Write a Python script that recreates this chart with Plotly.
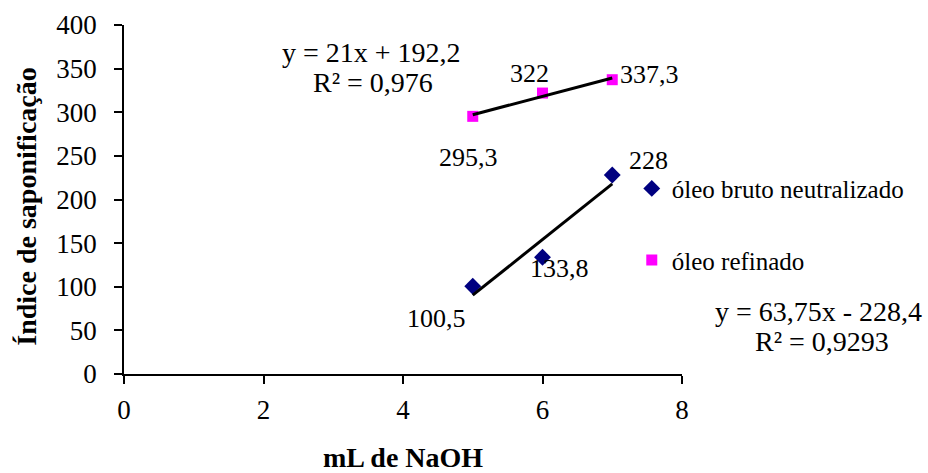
import numpy as np
import plotly.graph_objects as go

# ---- data ----
ml_naoh = [5, 6, 7]
bruto_vals = [100.5, 133.8, 228]
refinado_vals = [295.3, 322, 337.3]
series_names = ["óleo bruto neutralizado", "óleo refinado"]
x_ticks = [0, 2, 4, 6, 8]
y_ticks = [0, 50, 100, 150, 200, 250, 300, 350, 400]

FONT = "Liberation Serif"
NAVY = "#000080"
MAGENTA = "#FF00FF"


def fmt(v):
    return ("%g" % v).replace(".", ",")


fig = go.Figure()

fig.add_trace(go.Scatter(
    x=ml_naoh, y=bruto_vals, mode="markers", name=series_names[0],
    legendgroup="a",
    marker=dict(symbol="diamond", size=13, color=NAVY),
))
fig.add_trace(go.Scatter(
    x=ml_naoh, y=refinado_vals, mode="markers", name=series_names[1],
    legendgroup="b",
    marker=dict(symbol="square", size=11, color=MAGENTA),
))

# linear trend lines from least-squares fit
fits = []
for vals in (bruto_vals, refinado_vals):
    m, b = np.polyfit(ml_naoh, vals, 1)
    xs = np.array([ml_naoh[0], ml_naoh[-1]], dtype=float)
    fits.append((m, b))
    fig.add_trace(go.Scatter(
        x=xs, y=m * xs + b, mode="lines", showlegend=False,
        line=dict(color="black", width=3), hoverinfo="skip",
    ))


def r2(vals, m, b):
    y = np.array(vals)
    yhat = m * np.array(ml_naoh) + b
    return 1 - ((y - yhat) ** 2).sum() / ((y - y.mean()) ** 2).sum()


lbl_font = dict(family=FONT, size=26, color="black")
eq_font = dict(family=FONT, size=28, color="black")

# data labels (offsets in pixels)
label_offsets_bruto = [(-36, -32), (17, -11), (36, 15)]
label_offsets_ref = [(-4, -41), (-13, 20), (37, 5)]
for vals, offs in ((bruto_vals, label_offsets_bruto),
                   (refinado_vals, label_offsets_ref)):
    for xv, yv, (dx, dy) in zip(ml_naoh, vals, offs):
        fig.add_annotation(x=xv, y=yv, text=fmt(yv), showarrow=False,
                           xanchor="center", yanchor="middle",
                           xshift=dx, yshift=dy, font=lbl_font)

# equations
mb, bb = fits[0]
mr, br = fits[1]
eq_lines = [
    ("y = %sx + %s" % (fmt(round(mr, 2)), fmt(round(br, 1))), 0.444, 0.920),
    ("R² = %s" % fmt(round(r2(refinado_vals, mr, br), 3)), 0.446, 0.834),
    ("y = %sx - %s" % (fmt(round(mb, 2)), fmt(round(-bb, 1))), 1.244, 0.178),
    ("R² = %s" % fmt(round(r2(bruto_vals, mb, bb), 4)), 1.251, 0.092),
]
for txt, px, py in eq_lines:
    fig.add_annotation(xref="paper", yref="paper", x=px, y=py, text=txt,
                       showarrow=False, font=eq_font,
                       xanchor="center", yanchor="middle")

axis_common = dict(
    showline=True, linecolor="black", linewidth=1.5,
    ticks="outside", ticklen=8, tickwidth=1.5, tickcolor="black",
    showgrid=False, zeroline=False, automargin=False,
    tickfont=dict(family=FONT, size=27, color="black"),
)

fig.update_layout(
    width=928, height=473,
    margin=dict(l=124, r=246, t=25, b=99),
    paper_bgcolor="white", plot_bgcolor="white",
    font=dict(family=FONT, color="black"),
    xaxis=dict(range=[0, 8], tickvals=x_ticks, ticklabelstandoff=3,
               title=dict(text="<b>mL de NaOH</b>", font=dict(family=FONT, size=28),
                          standoff=35),
               **axis_common),
    yaxis=dict(range=[0, 400], tickvals=y_ticks, ticklabelstandoff=12,
               title=dict(text="<b>Índice de saponificação</b>&nbsp;&nbsp;",
                          font=dict(family=FONT, size=28), standoff=12),
               **axis_common),
    legend=dict(x=0.910, y=0.597, xanchor="left", yanchor="top",
                font=dict(family=FONT, size=25, color="black"),
                tracegroupgap=36, itemwidth=30, bgcolor="rgba(0,0,0,0)",
                borderwidth=0),
    showlegend=True,
)

# remove the page's default 8px body margin so the 928x473 figure fills the window
fig.write_html("out.html", config={"displayModeBar": False},
               post_script="document.body.style.margin='0px';")
